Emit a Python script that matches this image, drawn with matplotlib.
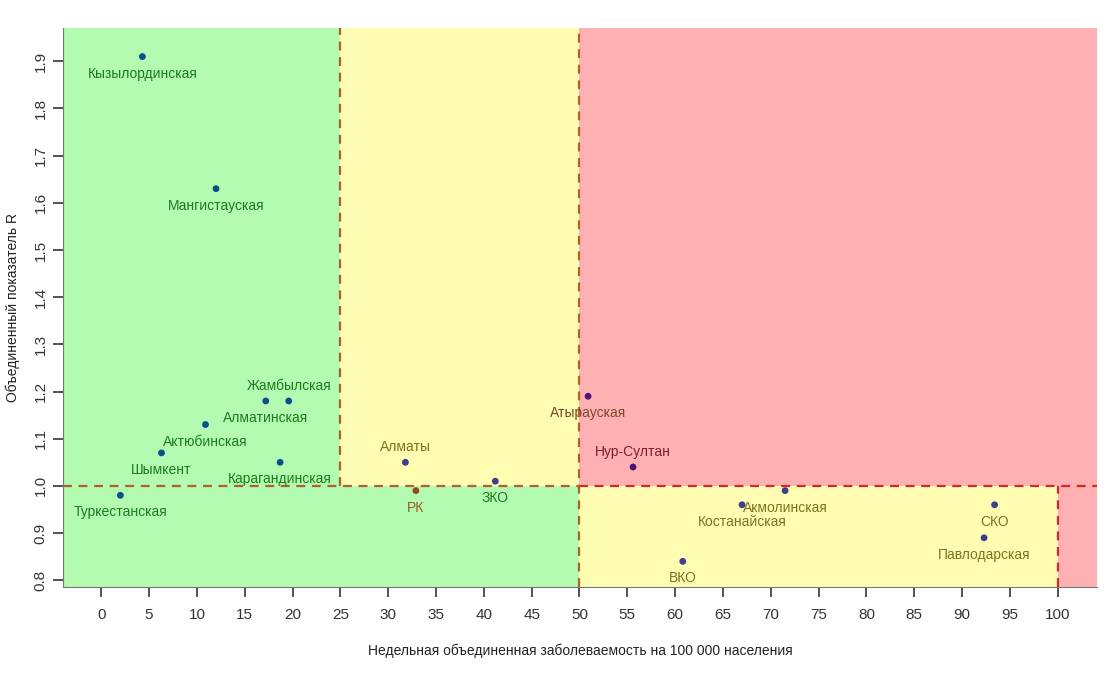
import matplotlib
matplotlib.use("Agg")
import matplotlib.pyplot as plt
from matplotlib.patches import Rectangle

# data
regions = ['Кызылординская', 'Мангистауская', 'Жамбылская', 'Алматинская',
           'Актюбинская', 'Шымкент', 'Карагандинская', 'Туркестанская',
           'Алматы', 'РК', 'ЗКО', 'Атырауская', 'Нур-Султан', 'ВКО',
           'Костанайская', 'Акмолинская', 'СКО', 'Павлодарская']
incidence = [4.3, 12.0, 19.6, 17.2, 10.9, 6.3, 18.7, 2.0,
             31.8, 32.9, 41.2, 50.9, 55.6, 60.8, 67.0, 71.5, 93.4, 92.3]
r_index = [1.91, 1.63, 1.18, 1.18, 1.13, 1.07, 1.05, 0.98,
           1.05, 0.99, 1.01, 1.19, 1.04, 0.84, 0.96, 0.99, 0.96, 0.89]

x_ticks = list(range(0, 101, 5))
y_ticks = [0.8, 0.9, 1.0, 1.1, 1.2, 1.3, 1.4, 1.5, 1.6, 1.7, 1.8, 1.9]

# styling
GREEN = '#b2fbb0'
YELLOW = '#fefdb2'
RED = '#feb0b2'
labels_above = {'Жамбылская', 'Алматы', 'Нур-Султан'}
point_colors = {'green': '#0b4f8a', 'yellow': '#3f3f8a', 'red': '#4a1478'}
text_colors = {'green': '#1e7a1e', 'yellow': '#7d7420', 'red': '#7a2030'}


def zone(x, y):
    if y >= 1.0:
        return 'green' if x < 25 else ('yellow' if x < 50 else 'red')
    return 'green' if x < 50 else ('yellow' if x < 100 else 'red')


plt.rcParams['font.family'] = ['Liberation Sans Narrow', 'Liberation Sans', 'DejaVu Sans']

fig = plt.figure(figsize=(11.17, 6.73), dpi=100)
ax = fig.add_axes([0.0564, 0.128, 0.9256, 0.830])
xmin, xmax, ymin, ymax = -4, 104.1, 0.786, 1.97
ax.set_xlim(xmin, xmax)
ax.set_ylim(ymin, ymax)

# background zones
ax.add_patch(Rectangle((xmin, 1.0), 25 - xmin, ymax - 1.0, color=GREEN, lw=0, zorder=0))
ax.add_patch(Rectangle((25, 1.0), 25, ymax - 1.0, color=YELLOW, lw=0, zorder=0))
ax.add_patch(Rectangle((50, 1.0), xmax - 50, ymax - 1.0, color=RED, lw=0, zorder=0))
ax.add_patch(Rectangle((xmin, ymin), 50 - xmin, 1.0 - ymin, color=GREEN, lw=0, zorder=0))
ax.add_patch(Rectangle((50, ymin), 50, 1.0 - ymin, color=YELLOW, lw=0, zorder=0))
ax.add_patch(Rectangle((100, ymin), xmax - 100, 1.0 - ymin, color=RED, lw=0, zorder=0))

# dashed borders
BROWN = '#b0602a'
DRED = '#d42828'
dash = dict(ls=(0, (4, 3)), lw=1.6, zorder=1)
ax.plot([xmin, 50], [1.0, 1.0], color=BROWN, **dash)
ax.plot([50, xmax], [1.0, 1.0], color=DRED, **dash)
ax.plot([25, 25], [1.0, ymax], color=BROWN, **dash)
ax.plot([50, 50], [ymin, ymax], color=BROWN, **dash)
ax.plot([100, 100], [ymin, 1.0], color=DRED, **dash)

# points and labels
for name, x, y in zip(regions, incidence, r_index):
    pc = point_colors[zone(x, y)]
    dy = 15 if name in labels_above else -17
    tc = text_colors[zone(x, y + dy / 470.0)]
    if name == 'РК':
        pc = '#9a4a1a'
        tc = '#a0582a'
    if name == 'Атырауская':
        tc = '#7a4a2a'
    ax.scatter([x], [y], s=24, color=pc, zorder=3, edgecolors='none')
    ax.annotate(name, (x, y), xytext=(0, dy), textcoords='offset pixels',
                ha='center', va='center', fontsize=10, color=tc, zorder=4)

ax.set_xticks(x_ticks)
ax.set_yticks(y_ticks)
ax.set_yticklabels([f'{v:.1f}' for v in y_ticks], rotation=90, va='center')
ax.tick_params(axis='both', labelsize=11, colors='#333333', length=7, width=1.2)
ax.tick_params(axis='x', pad=8)
ax.tick_params(axis='y', pad=4)

for s in ['top', 'right']:
    ax.spines[s].set_visible(False)
ax.spines['left'].set_color('#777777')
ax.spines['bottom'].set_color('#777777')

ax.set_xlabel('Недельная объединенная заболеваемость на 100 000 населения',
              fontsize=10, color='#222222', labelpad=16)
ax.set_ylabel('Объединенный показатель R', fontsize=10, color='#222222', labelpad=10)

fig.savefig('out.png', dpi=100)
